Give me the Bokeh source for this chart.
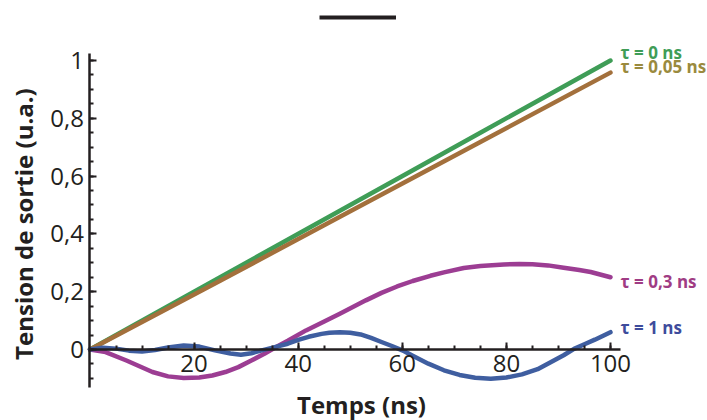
import math
from bokeh.plotting import figure
from bokeh.models import Range1d, FixedTicker, Label, Legend, LegendItem, LinearAxis
from bokeh.core.properties import value
from bokeh.embed import file_html
from bokeh.resources import INLINE

# ---- data ----
t_lin = [0, 25, 50, 75, 100]
v_tau_0 = [0.0, 0.25, 0.5, 0.75, 1.0]
v_tau_005 = [0.0, 0.238, 0.478, 0.718, 0.958]

t_tau_03 = [0, 3, 7, 12, 15, 18, 21, 23.5, 26, 28.5, 31, 33.5, 35.5, 38, 41.5, 45, 48,
            53, 56, 59, 62, 65.4, 68, 71.8, 75, 79.5, 82.5, 85, 88, 91, 94, 96.2, 100]
v_tau_03 = [0.0, -0.009, -0.038, -0.078, -0.093, -0.099, -0.097, -0.09, -0.078, -0.061,
            -0.038, -0.015, 0.006, 0.03, 0.066, 0.097, 0.124, 0.17, 0.196, 0.218, 0.237,
            0.255, 0.267, 0.282, 0.289, 0.294, 0.296, 0.295, 0.291, 0.283, 0.275, 0.268,
            0.25]

t_tau_1 = [0, 2.5, 5, 7.5, 10, 12.5, 15, 18, 21, 24, 27, 29, 31, 33, 35.5, 38, 40, 42,
           44.5, 46, 48, 50, 52, 54, 56, 58, 60, 62, 65, 68, 71, 74, 77, 80, 83, 86, 88.5,
           91, 93, 95, 97, 100]
v_tau_1 = [0.0, 0.006, 0.003, -0.004, -0.007, -0.002, 0.007, 0.014, 0.01, -0.003, -0.014,
           -0.018, -0.013, -0.003, 0.008, 0.02, 0.033, 0.044, 0.054, 0.058, 0.06, 0.058,
           0.052, 0.04, 0.026, 0.012, -0.003, -0.022, -0.049, -0.072, -0.088, -0.098,
           -0.101, -0.097, -0.086, -0.068, -0.044, -0.02, 0.002, 0.018, 0.034, 0.06]

series_names = ["τ = 0 ns", "τ = 0,05 ns", "τ = 0,3 ns", "τ = 1 ns"]
line_colors = ["#3f9d57", "#a3703c", "#9c3d93", "#3f5ea0"]
text_colors = ["#3f9d57", "#9a8a3e", "#a03c84", "#3e4c9c"]

x_ticks = [20, 40, 60, 80, 100]
x_minor = [5, 10, 15, 20, 25, 30, 35, 40, 45, 50, 55, 60, 65, 70, 75, 80, 85, 90, 95, 100]
y_ticks = [0, 0.2, 0.4, 0.6, 0.8, 1]
y_labels = ["0", "0,2", "0,4", "0,6", "0,8", "1"]
y_minor = [-0.1, -0.05, 0, 0.05, 0.1, 0.15, 0.2, 0.25, 0.3, 0.35, 0.4, 0.45, 0.5, 0.55,
           0.6, 0.65, 0.7, 0.75, 0.8, 0.85, 0.9, 0.95, 1.0]
x_axis_title = "Temps (ns)"
y_axis_title = "Tension de sortie (u.a.)"

INK = "#231f20"
FONT = "Open Sans"

p = figure(width=707, height=420, output_backend="svg", toolbar_location=None,
           x_range=Range1d(-17.195, 118.64), y_range=Range1d(-0.2457, 1.2076),
           min_border=0, x_axis_location=None, y_axis_location=None)
p.outline_line_color = None
p.background_fill_color = "white"
p.border_fill_color = "white"
p.xgrid.visible = False
p.ygrid.visible = False

# curves
xs = [t_lin, t_lin, t_tau_03, t_tau_1]
ys = [v_tau_0, v_tau_005, v_tau_03, v_tau_1]
ends = []
for tx, vy, c in zip(xs, ys, line_colors):
    p.line(tx, vy, line_color=c, line_width=4.5, line_join="round", line_cap="round")
    ends.append((tx[-1], vy[-1]))

# axes crossing at the origin
ya = LinearAxis(fixed_location=0, bounds=(-0.131, 1.024))
ya.ticker = FixedTicker(ticks=y_ticks, minor_ticks=y_minor)
ya.major_label_overrides = {k: v for k, v in zip(y_ticks, y_labels)}
p.add_layout(ya, "left")

xa = LinearAxis(fixed_location=0, bounds=(0, 101.9))
xa.ticker = FixedTicker(ticks=x_ticks, minor_ticks=x_minor)
p.add_layout(xa, "below")

for ax in (xa, ya):
    ax.axis_line_color = INK
    ax.axis_line_width = 2.5
    ax.major_tick_line_color = INK
    ax.minor_tick_line_color = INK
    ax.major_tick_line_width = 2
    ax.minor_tick_line_width = 2
    ax.major_tick_in = 7
    ax.major_tick_out = 0
    ax.minor_tick_in = 4
    ax.minor_tick_out = 0
    ax.major_label_text_font = FONT
    ax.major_label_text_font_size = "24px"
    ax.major_label_text_color = INK

xa.major_label_standoff = 6
ya.major_label_standoff = 6

# axis titles
p.add_layout(Label(x=52.16, y=-0.192, text=x_axis_title, text_color=INK, text_font=FONT,
                   text_font_style="bold", text_font_size="24px",
                   text_align="center", text_baseline="middle"))
p.add_layout(Label(x=-12.78, y=0.434, text=y_axis_title, text_color=INK, text_font=FONT,
                   text_font_style="bold", text_font_size="24px", angle=math.pi / 2,
                   text_align="center", text_baseline="middle"))

# series labels at the right end of each curve
label_dy = [8, 6, -4, 5]
for name, col, (ex, ey), dy in zip(series_names, text_colors, ends, label_dy):
    p.add_layout(Label(x=ex, y=ey, x_offset=10, y_offset=dy, text=name,
                       text_color=col, text_font=FONT, text_font_style="bold",
                       text_font_size="17px", text_baseline="middle", text_align="left"))

# short black legend line at the top
blk = p.line(x=[float("nan")], y=[float("nan")], line_color=INK, line_width=4)
leg = Legend(items=[LegendItem(label=value(" "), renderers=[blk])],
             location=(319, 399), padding=0, margin=0, spacing=0,
             glyph_width=77, glyph_height=8, label_width=0, label_standoff=0,
             label_text_font_size="1px", border_line_color=None,
             background_fill_alpha=0)
p.add_layout(leg)

open("out.html", "w").write(file_html(p, INLINE))
